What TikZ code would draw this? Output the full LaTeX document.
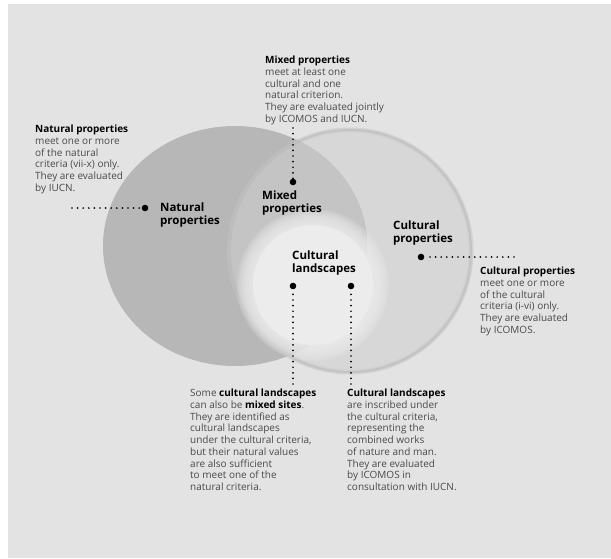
\documentclass[tikz,border=0pt]{standalone}
\usepackage{fontspec}
\setmainfont{Open Sans}
\definecolor{bgc}{HTML}{E3E3E3}
\definecolor{natc}{HTML}{B7B7B7}
\definecolor{culc}{HTML}{D7D7D7}
\definecolor{ringc}{HTML}{C3C3C3}
\definecolor{mixc}{HTML}{C4C4C4}
\definecolor{innc}{HTML}{ECECEC}
\definecolor{bodyc}{HTML}{4A4A4A}
\tikzset{
  bodytext/.style={anchor=north west, inner sep=0pt, align=left, text=bodyc,
    font=\fontsize{10}{11.7}\selectfont},
  labeltext/.style={anchor=north west, inner sep=0pt, align=left, text=black,
    font=\fontsize{11.5}{12.5}\selectfont\bfseries},
  dotline/.style={line width=1.9pt, line cap=round, dash pattern=on 0pt off 5.6pt, black},
  bigdot/.style={circle, fill=black, inner sep=0pt, minimum size=6.6pt},
}
\newcommand{\hd}[1]{\textbf{\color{black}#1}}
\begin{document}
\begin{tikzpicture}[x=1pt,y=-1pt]
\path[use as bounding box] (0,0) rectangle (611,558);
\fill[white] (0,0) rectangle (611,558);
\fill[bgc] (8,4) rectangle (611,558);
% cultural circle with ring
\fill[culc] (350,251) circle [radius=122pt];
\draw[ringc!55!bgc, line width=5pt] (350,251) circle [radius=121pt];
\draw[ringc, line width=2pt] (350,251) circle [radius=121pt];
% natural ellipse on top
\fill[natc] (235,246) ellipse [x radius=132pt, y radius=120pt];
% overlap
\begin{scope}
\clip (235,246) ellipse [x radius=132pt, y radius=120pt];
\fill[natc!50!mixc] (350,251) circle [radius=123pt];
\fill[mixc] (350,251) circle [radius=119pt];
\end{scope}
% inner soft disc
\foreach \r in {76,74,...,62}{
  \fill[innc, opacity=0.2] (313,285) circle [radius=\r pt];
}
\fill[innc] (313,285) circle [radius=60pt];

% labels
\node[labeltext] (natlab) at (160,203) {Natural\\properties};
\node[labeltext] (mixlab) at (262,191) {Mixed\\properties};
\node[labeltext] (cullab) at (393,221) {Cultural\\properties};
\node[labeltext] (cllab) at (292,251) {Cultural\\landscapes};

% dots
\node[bigdot] (natdot) at (145,208) {};
\node[bigdot] (mixdot) at (293,182) {};
\node[bigdot] (culdot) at (421,257) {};
\node[bigdot] (cldotA) at (293,286) {};
\node[bigdot] (cldotB) at (351,286) {};

\coordinate (natend) at (72,208);
\coordinate (mixend) at (293,128);
\coordinate (culend) at (514,257);
\coordinate (clendA) at (293,384);
\coordinate (clendB) at (351,384);

\draw[dotline] (natend) -- (natdot);
\draw[dotline] (mixend) -- (mixdot);
\draw[dotline] (culend) -- (culdot);
\draw[dotline] (clendA) -- (cldotA);
\draw[dotline] (clendB) -- (cldotB);

% text blocks
\node[bodytext] (natbody) at (35,125) {\hd{Natural properties}\\meet one or more\\of the natural\\criteria (vii-x) only.\\They are evaluated\\by IUCN.};
\node[bodytext] (mixbody) at (265,56) {\hd{Mixed properties}\\meet at least one\\cultural and one\\natural criterion.\\They are evaluated jointly\\by ICOMOS and IUCN.};
\node[bodytext] (culbody) at (480,267) {\hd{Cultural properties}\\meet one or more\\of the cultural\\criteria (i-vi) only.\\They are evaluated\\by ICOMOS.};
\node[bodytext] (clbodyA) at (190,389) {Some \hd{cultural landscapes}\\can also be \hd{mixed sites}.\\They are identified as\\cultural landscapes\\under the cultural criteria,\\but their natural values\\are also sufficient\\to meet one of the\\natural criteria.};
\node[bodytext] (clbodyB) at (347,389) {\hd{Cultural landscapes}\\are inscribed under\\the cultural criteria,\\representing the\\combined works\\of nature and man.\\They are evaluated\\by ICOMOS in\\consultation with IUCN.};
\end{tikzpicture}
\end{document}
